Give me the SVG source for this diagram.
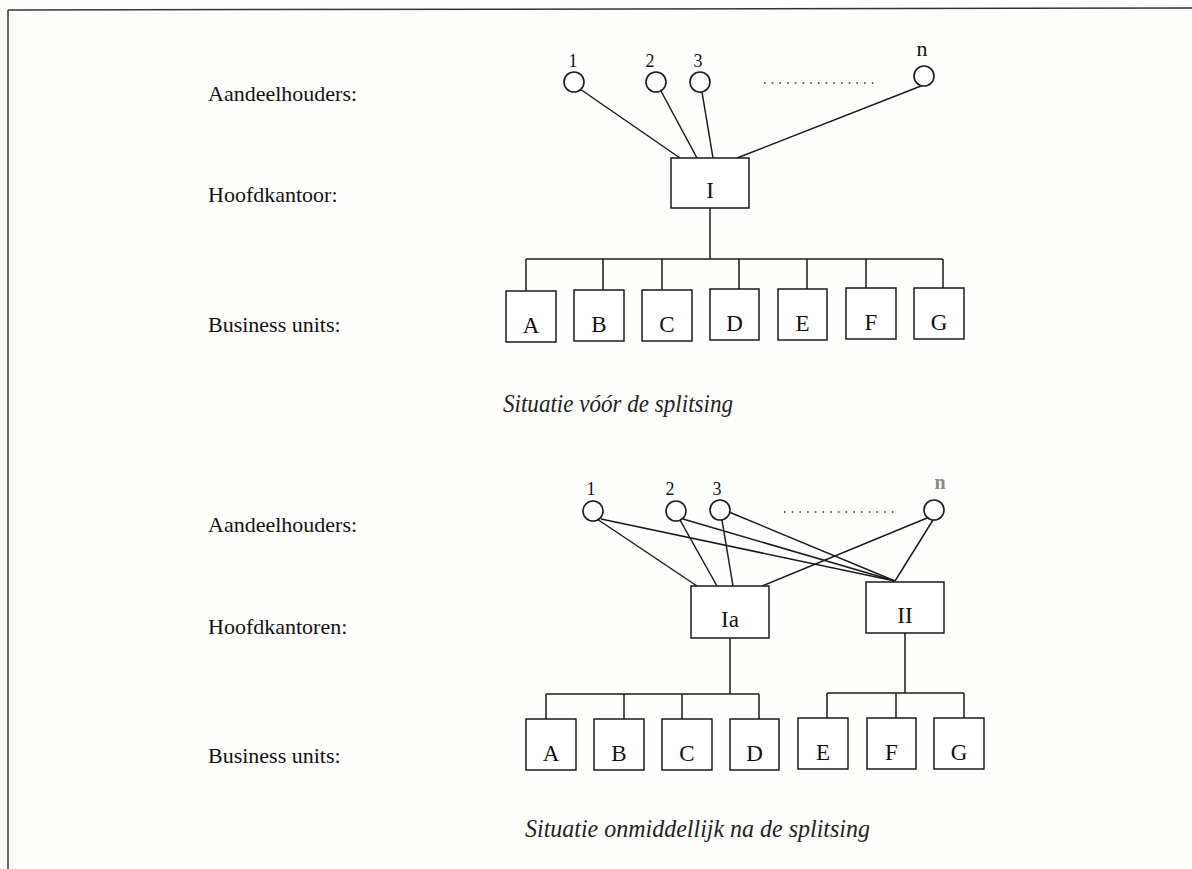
<svg xmlns="http://www.w3.org/2000/svg" width="1192" height="869" viewBox="0 0 1192 869">
<style>
.bg{fill:#fefefc}
.lbl{font-family:"Liberation Serif","Times New Roman",serif;font-size:22px;fill:#111}
.num{font-family:"Liberation Serif","Times New Roman",serif;font-size:18px;fill:#111;text-anchor:middle}
.nn{font-family:"Liberation Serif","Times New Roman",serif;font-size:22px;fill:#111;text-anchor:middle}
.box{fill:#fff;stroke:#1a1a1a;stroke-width:1.5}
.bt{font-family:"Liberation Serif","Times New Roman",serif;font-size:23px;fill:#111;text-anchor:middle}
.circ{fill:#fff;stroke:#1a1a1a;stroke-width:1.6}
.ln{stroke:#1a1a1a;stroke-width:1.5;fill:none}
.dots{stroke:#333;stroke-width:1.6;stroke-dasharray:1.6 6.1;fill:none}
.cap{font-family:"Liberation Serif","Times New Roman",serif;font-size:25px;font-style:italic;fill:#222}
.frame{stroke:#333;stroke-width:1.5;fill:none}
</style>
<rect class="bg" x="0" y="0" width="1192" height="869"/>
<g id="frame">
<line class="frame" x1="8" y1="10" x2="1192" y2="8"/>
<line class="frame" x1="8" y1="10" x2="8" y2="869"/>
</g>

<g id="labels-top">
<text class="lbl" x="208" y="101">Aandeelhouders:</text>
<text class="lbl" x="208" y="202">Hoofdkantoor:</text>
<text class="lbl" x="208" y="332">Business units:</text>
</g>

<g id="connectors-top">
<line class="ln" x1="580" y1="89" x2="680" y2="158"/>
<line class="ln" x1="661" y1="91" x2="697" y2="158"/>
<line class="ln" x1="702" y1="92" x2="713" y2="158"/>
<line class="ln" x1="921" y1="86" x2="737" y2="158"/>
<line class="ln" x1="710" y1="208" x2="710" y2="259"/>
<line class="ln" x1="526" y1="259" x2="943" y2="259"/>
<line class="ln" x1="526" y1="259" x2="526" y2="291"/>
<line class="ln" x1="603" y1="259" x2="603" y2="290"/>
<line class="ln" x1="662" y1="259" x2="662" y2="290"/>
<line class="ln" x1="739" y1="259" x2="739" y2="289"/>
<line class="ln" x1="807" y1="259" x2="807" y2="289"/>
<line class="ln" x1="866" y1="259" x2="866" y2="288"/>
<line class="ln" x1="943" y1="259" x2="943" y2="288"/>
<line class="dots" x1="764" y1="83" x2="879" y2="83"/>
</g>

<g id="sh1-top"><circle class="circ" cx="574" cy="82" r="10"/><text class="num" x="573" y="67">1</text></g>
<g id="sh2-top"><circle class="circ" cx="656" cy="82" r="10"/><text class="num" x="650" y="67">2</text></g>
<g id="sh3-top"><circle class="circ" cx="700" cy="82" r="10"/><text class="num" x="698" y="67">3</text></g>
<g id="shn-top"><circle class="circ" cx="924" cy="76" r="10"/><text class="nn" x="922" y="56">n</text></g>

<g id="hq-I"><rect class="box" x="671" y="158" width="78" height="50"/><text class="bt" x="710" y="198">I</text></g>

<g id="bu-A-top"><rect class="box" x="506" y="291" width="50" height="51"/><text class="bt" x="531" y="333">A</text></g>
<g id="bu-B-top"><rect class="box" x="574" y="290" width="50" height="51"/><text class="bt" x="599" y="332">B</text></g>
<g id="bu-C-top"><rect class="box" x="642" y="290" width="50" height="51"/><text class="bt" x="667" y="332">C</text></g>
<g id="bu-D-top"><rect class="box" x="710" y="289" width="49" height="51"/><text class="bt" x="734.5" y="331">D</text></g>
<g id="bu-E-top"><rect class="box" x="778" y="289" width="49" height="51"/><text class="bt" x="802.5" y="331">E</text></g>
<g id="bu-F-top"><rect class="box" x="846" y="288" width="50" height="51"/><text class="bt" x="871" y="330">F</text></g>
<g id="bu-G-top"><rect class="box" x="914" y="288" width="50" height="51"/><text class="bt" x="939" y="330">G</text></g>

<text class="cap" x="503" y="412" textLength="230" lengthAdjust="spacingAndGlyphs">Situatie vóór de splitsing</text>

<g id="labels-bottom">
<text class="lbl" x="208" y="532">Aandeelhouders:</text>
<text class="lbl" x="208" y="634">Hoofdkantoren:</text>
<text class="lbl" x="208" y="763">Business units:</text>
</g>

<g id="connectors-bottom">
<line class="ln" x1="597" y1="519" x2="697" y2="586"/>
<line class="ln" x1="601" y1="519" x2="895" y2="581"/>
<line class="ln" x1="680" y1="520" x2="717" y2="586"/>
<line class="ln" x1="683" y1="519" x2="895" y2="581"/>
<line class="ln" x1="722" y1="520" x2="733" y2="586"/>
<line class="ln" x1="729" y1="512" x2="895" y2="581"/>
<line class="ln" x1="927" y1="518" x2="762" y2="586"/>
<line class="ln" x1="933" y1="520" x2="895" y2="581"/>
<line class="ln" x1="730" y1="638" x2="730" y2="694"/>
<line class="ln" x1="546" y1="694" x2="759" y2="694"/>
<line class="ln" x1="546" y1="694" x2="546" y2="719"/>
<line class="ln" x1="624" y1="694" x2="624" y2="719"/>
<line class="ln" x1="682" y1="694" x2="682" y2="719"/>
<line class="ln" x1="759" y1="694" x2="759" y2="719"/>
<line class="ln" x1="905" y1="633" x2="905" y2="693"/>
<line class="ln" x1="827" y1="693" x2="964" y2="693"/>
<line class="ln" x1="827" y1="693" x2="827" y2="718"/>
<line class="ln" x1="896" y1="693" x2="896" y2="718"/>
<line class="ln" x1="964" y1="693" x2="964" y2="718"/>
<line class="dots" x1="784" y1="512" x2="899" y2="512"/>
</g>

<g id="sh1-bottom"><circle class="circ" cx="593" cy="511" r="10"/><text class="num" x="591" y="495">1</text></g>
<g id="sh2-bottom"><circle class="circ" cx="676" cy="511" r="10"/><text class="num" x="670" y="495">2</text></g>
<g id="sh3-bottom"><circle class="circ" cx="720" cy="510" r="10"/><text class="num" x="717" y="495">3</text></g>
<g id="shn-bottom"><circle class="circ" cx="934" cy="510" r="10"/><text class="nn" x="940" y="489" style="fill:#8a8a8a;font-weight:bold;font-size:20px">n</text></g>

<g id="hq-Ia"><rect class="box" x="691" y="586" width="78" height="52"/><text class="bt" x="730" y="627">Ia</text></g>
<g id="hq-II"><rect class="box" x="866" y="582" width="78" height="51"/><text class="bt" x="905" y="623">II</text></g>

<g id="bu-A-bottom"><rect class="box" x="526" y="719" width="50" height="51"/><text class="bt" x="551" y="761">A</text></g>
<g id="bu-B-bottom"><rect class="box" x="594" y="719" width="50" height="51"/><text class="bt" x="619" y="761">B</text></g>
<g id="bu-C-bottom"><rect class="box" x="662" y="719" width="50" height="51"/><text class="bt" x="687" y="761">C</text></g>
<g id="bu-D-bottom"><rect class="box" x="730" y="719" width="49" height="51"/><text class="bt" x="754.5" y="761">D</text></g>
<g id="bu-E-bottom"><rect class="box" x="798" y="718" width="50" height="51"/><text class="bt" x="823" y="760">E</text></g>
<g id="bu-F-bottom"><rect class="box" x="867" y="718" width="49" height="51"/><text class="bt" x="891.5" y="760">F</text></g>
<g id="bu-G-bottom"><rect class="box" x="934" y="718" width="50" height="51"/><text class="bt" x="959" y="760">G</text></g>

<text class="cap" x="525" y="837" textLength="345" lengthAdjust="spacingAndGlyphs">Situatie onmiddellijk na de splitsing</text>
</svg>
